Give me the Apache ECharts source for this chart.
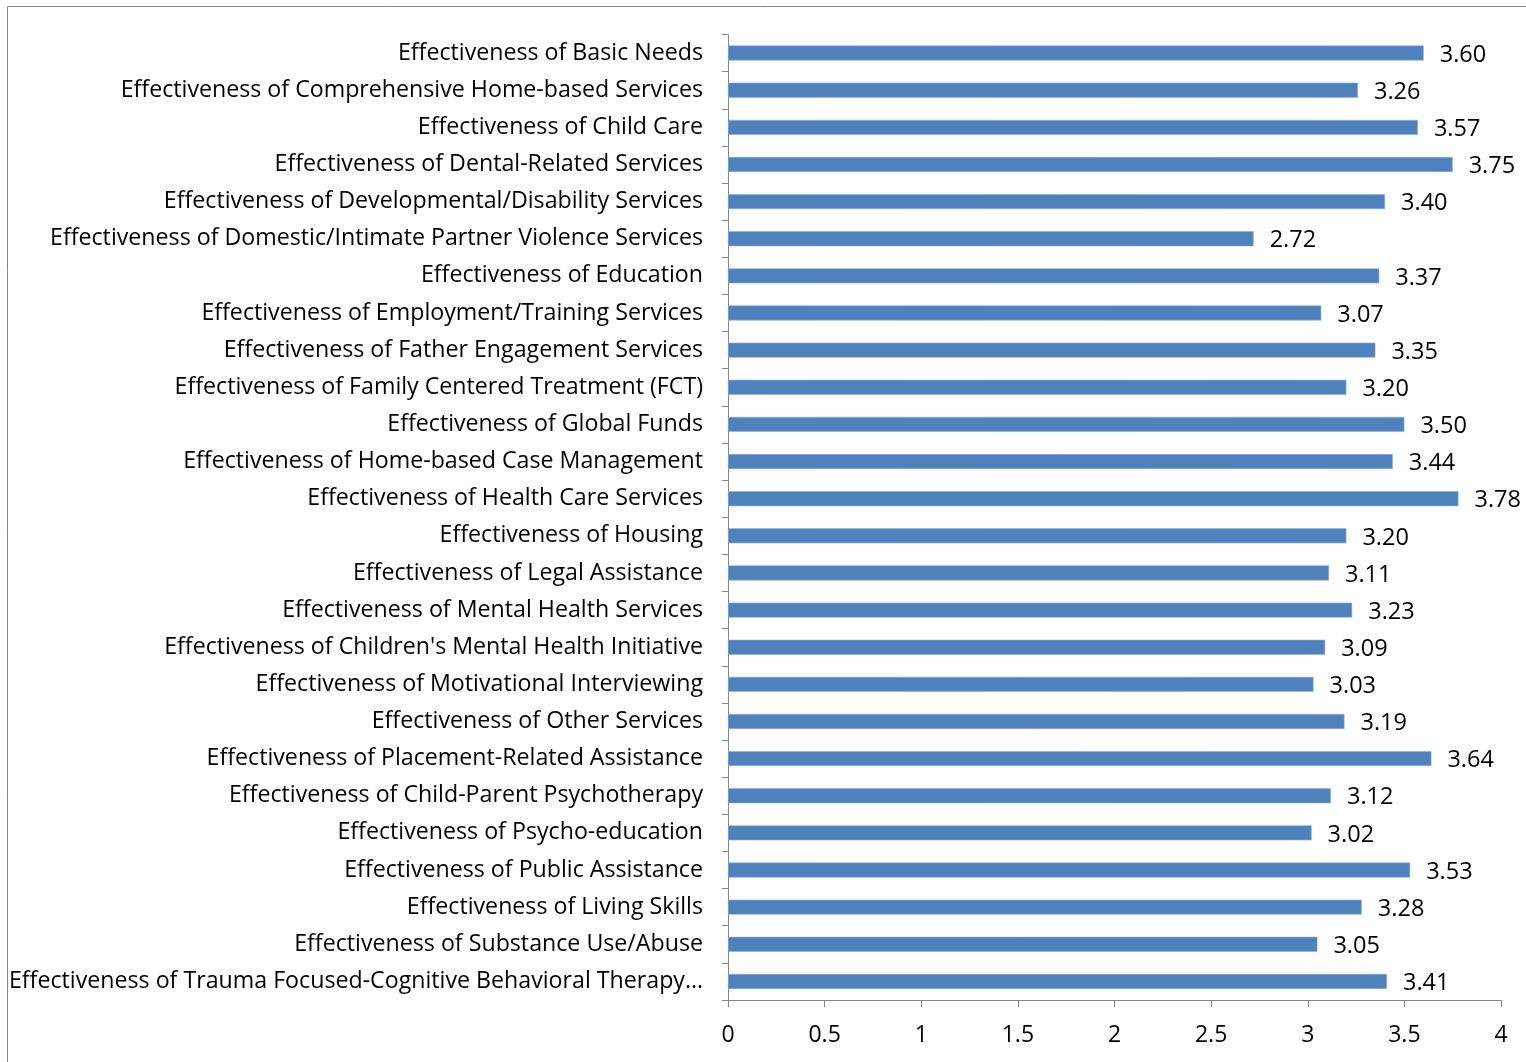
<!DOCTYPE html>
<html><head><meta charset="utf-8">
<script src="https://cdn.jsdelivr.net/npm/echarts@6/dist/echarts.min.js"></script>
<style>html,body{margin:0;padding:0;background:#fff}#c{width:1526px;height:1062px}</style>
</head><body><div id="c"></div>
<script>
var categories = [
"Effectiveness of Basic Needs",
"Effectiveness of Comprehensive Home-based Services",
"Effectiveness of Child Care",
"Effectiveness of Dental-Related Services",
"Effectiveness of Developmental/Disability Services",
"Effectiveness of Domestic/Intimate Partner Violence Services",
"Effectiveness of Education",
"Effectiveness of Employment/Training Services",
"Effectiveness of Father Engagement Services",
"Effectiveness of Family Centered Treatment (FCT)",
"Effectiveness of Global Funds",
"Effectiveness of Home-based Case Management",
"Effectiveness of Health Care Services",
"Effectiveness of Housing",
"Effectiveness of Legal Assistance",
"Effectiveness of Mental Health Services",
"Effectiveness of Children's Mental Health Initiative",
"Effectiveness of Motivational Interviewing",
"Effectiveness of Other Services",
"Effectiveness of Placement-Related Assistance",
"Effectiveness of Child-Parent Psychotherapy",
"Effectiveness of Psycho-education",
"Effectiveness of Public Assistance",
"Effectiveness of Living Skills",
"Effectiveness of Substance Use/Abuse",
"Effectiveness of Trauma Focused-Cognitive Behavioral Therapy\u2026"
];
var values = [3.60,3.26,3.57,3.75,3.40,2.72,3.37,3.07,3.35,3.20,3.50,3.44,3.78,3.20,3.11,3.23,3.09,3.03,3.19,3.64,3.12,3.02,3.53,3.28,3.05,3.41];

var FONT = '"Open Sans", sans-serif';
var chart = echarts.init(document.getElementById('c'));
chart.setOption({
  animation:false,
  graphic:[{type:'rect',shape:{x:7.5,y:6.5,width:1700,height:1200},style:{fill:null,stroke:'#868686',lineWidth:1},silent:true}],
  grid:{left:728,right:25,top:34.5,bottom:62,containLabel:false},
  xAxis:{type:'value',min:0,max:4,interval:0.5,
    axisLine:{show:true,lineStyle:{color:'#868686',width:1}},
    axisTick:{show:true,length:7,lineStyle:{color:'#868686'}},
    splitLine:{show:false},
    axisLabel:{color:'#000',fontFamily:FONT,fontSize:23,margin:24}},
  yAxis:{type:'category',inverse:true,data:categories,
    axisLine:{show:true,lineStyle:{color:'#868686',width:1}},
    axisTick:{show:true,length:6,lineStyle:{color:'#868686'}},
    axisLabel:{color:'#000',fontFamily:FONT,fontSize:23.2,margin:25,padding:[4,0,0,0]}},
  series:[{type:'bar',data:values,barWidth:15,
    itemStyle:{color:'#4F81BD',borderColor:'#8EB0DA',borderWidth:0.6},
    label:{show:true,position:'right',distance:16,offset:[0,2],color:'#000',fontFamily:FONT,fontSize:23.5,
      formatter:function(p){return p.value.toFixed(2);}}}]
});
</script></body></html>
